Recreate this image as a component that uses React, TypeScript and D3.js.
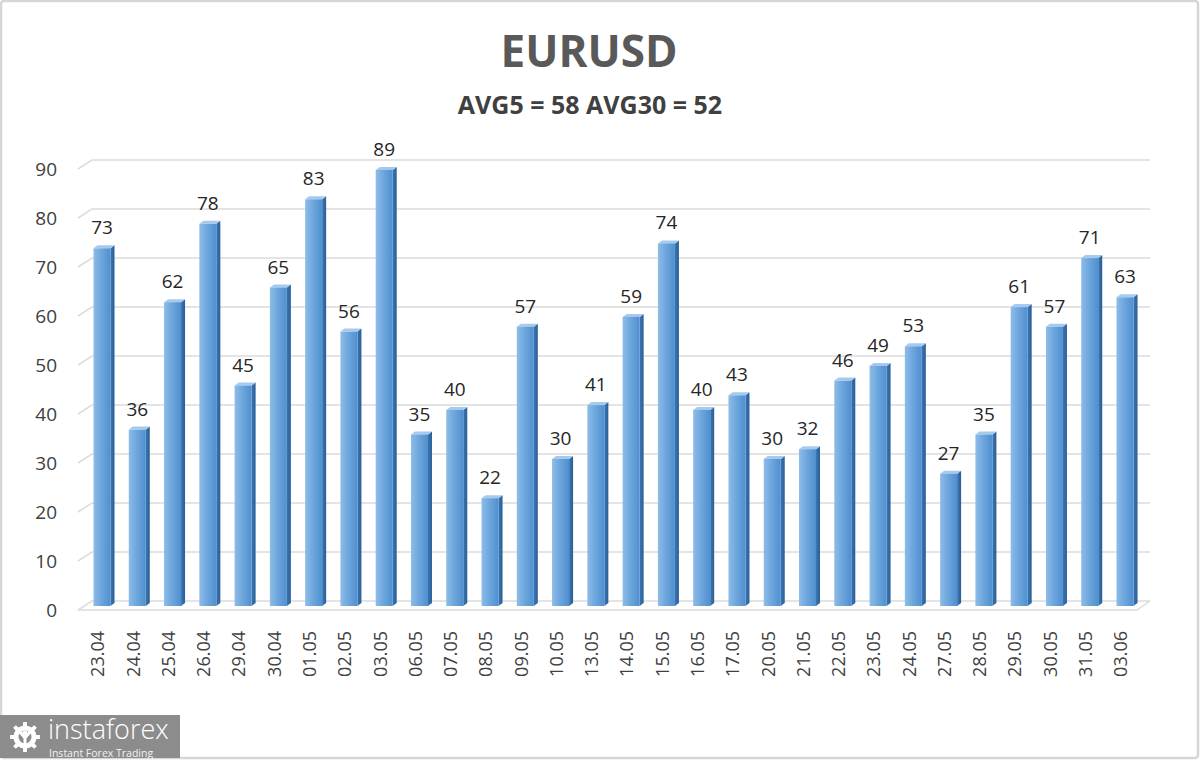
import React from 'react';
import * as d3 from 'd3';

const dates = ['23.04', '24.04', '25.04', '26.04', '29.04', '30.04', '01.05', '02.05', '03.05', '06.05',
  '07.05', '08.05', '09.05', '10.05', '13.05', '14.05', '15.05', '16.05', '17.05', '20.05',
  '21.05', '22.05', '23.05', '24.05', '27.05', '28.05', '29.05', '30.05', '31.05', '03.06'];
const values = [73, 36, 62, 78, 45, 65, 83, 56, 89, 35, 40, 22, 57, 30, 41, 59, 74, 40, 43, 30,
  32, 46, 49, 53, 27, 35, 61, 57, 71, 63];
const yTicks = [0, 10, 20, 30, 40, 50, 60, 70, 80, 90];
const title = 'EURUSD';
const subtitle = 'AVG5 = 58 AVG30 = 52';

const W = 1200;
const H = 760;
const FONT = '"Open Sans", "Liberation Sans", sans-serif';

// 3d depth offsets
const DX = 14;
const DY = 9;
const BW = 17;
const SIDE = 4;

const gearPath = (() => {
  const teeth = 8;
  const rOut = 15;
  const rIn = 11.5;
  const pts: [number, number][] = [];
  for (let i = 0; i < teeth; i++) {
    const a = (i / teeth) * Math.PI * 2;
    const step = (Math.PI * 2) / teeth;
    const segs = [
      [a - step * 0.5, rIn],
      [a - step * 0.22, rIn],
      [a - step * 0.16, rOut],
      [a + step * 0.16, rOut],
      [a + step * 0.22, rIn],
    ];
    segs.forEach(([ang, r]) => pts.push([Math.cos(ang) * r, Math.sin(ang) * r]));
  }
  return d3.line()(pts) + 'Z';
})();

export default function App() {
  const x = d3.scalePoint<string>().domain(dates).range([102, 1125]);
  const y = d3.scaleLinear().domain([0, 90]).range([610, 169]);
  const barY = (v: number) => y(v) - 4;

  const left = 78;
  const right = 1137;

  return (
    <div style={{ position: 'absolute', left: 0, top: 0 }}>
      <svg width={W} height={H} style={{ display: 'block', background: '#fff' }}>
        <defs>
          <linearGradient id="front" x1="0" x2="1" y1="0" y2="0">
            <stop offset="0%" stopColor="#8dbce8" />
            <stop offset="45%" stopColor="#6ea7dd" />
            <stop offset="100%" stopColor="#4f8fcf" />
          </linearGradient>
          <linearGradient id="side" x1="0" x2="1" y1="0" y2="0">
            <stop offset="0%" stopColor="#3a76b3" />
            <stop offset="100%" stopColor="#2a5f97" />
          </linearGradient>
        </defs>

        <rect x={1} y={1} width={W - 3} height={H - 3} fill="#fff" stroke="#d6d6d6" strokeWidth={2.5} rx={3} />

        <text x={589} y={67} textAnchor="middle" fontFamily={FONT} fontWeight={700} fontSize={44} fill="#595959">
          {title}
        </text>
        <text x={590} y={114} textAnchor="middle" fontFamily={FONT} fontWeight={700} fontSize={25} fill="#404040">
          {subtitle}
        </text>

        {/* gridlines on the back wall */}
        <g fill="none" stroke="#dcdcdc" strokeWidth={1.5}>
          {yTicks.map(t => (
            <polyline
              key={t}
              points={`${left},${y(t)} ${left + DX},${y(t) - DY} ${right + DX - 1},${y(t) - DY}`}
            />
          ))}
          <polyline points={`${left},${y(0)} ${right},${y(0)} ${right + DX - 1},${y(0) - DY}`} />
        </g>

        {/* y axis labels */}
        {yTicks.map(t => (
          <text key={t} x={57} y={y(t)} dy="0.35em" textAnchor="end" fontFamily={FONT} fontSize={19} fill="#404040">
            {t}
          </text>
        ))}

        {/* bars */}
        {values.map((v, i) => {
          const c = x(dates[i]) as number;
          const top = barY(v);
          const bottom = barY(0);
          const l = c - BW / 2;
          const r = c + BW / 2;
          return (
            <g key={dates[i]}>
              <polygon
                points={`${r},${top} ${r + SIDE},${top - 3} ${r + SIDE},${bottom - 3} ${r},${bottom}`}
                fill="url(#side)"
              />
              <polygon
                points={`${l},${top} ${l + SIDE},${top - 3} ${r + SIDE},${top - 3} ${r},${top}`}
                fill="#a6caee"
              />
              <rect x={l} y={top} width={BW} height={bottom - top} fill="url(#front)" />
              <text x={c} y={top - 14} textAnchor="middle" fontFamily={FONT} fontSize={19} fill="#262626">
                {v}
              </text>
            </g>
          );
        })}

        {/* x axis labels */}
        {dates.map(d => (
          <text
            key={d}
            transform={`translate(${(x(d) as number) - 4},631) rotate(-90)`}
            dy="0.35em"
            textAnchor="end"
            fontFamily={FONT}
            fontSize={18}
            fill="#404040"
          >
            {d}
          </text>
        ))}

        {/* watermark logo */}
        <g>
          <rect x={0} y={715} width={180} height={43} fill="#8c8c8c" />
          <g transform="translate(25,737)">
            <path d={gearPath} fill="#fff" />
            <circle r={6.5} fill="#8c8c8c" />
            <path d="M-5,-5 L0,1 L5,-5 M0,1 L0,10" stroke="#fff" strokeWidth={3} fill="none" />
            <circle cx={0} cy={-4} r={2.6} fill="#fff" />
          </g>
          <text x={48} y={739} fontFamily={FONT} fontWeight={300} fontSize={27} fill="#fff">
            instaforex
          </text>
          <text x={49} y={757} fontFamily={FONT} fontSize={10.5} fill="#f2f2f2">
            Instant Forex Trading
          </text>
        </g>
      </svg>
    </div>
  );
}
